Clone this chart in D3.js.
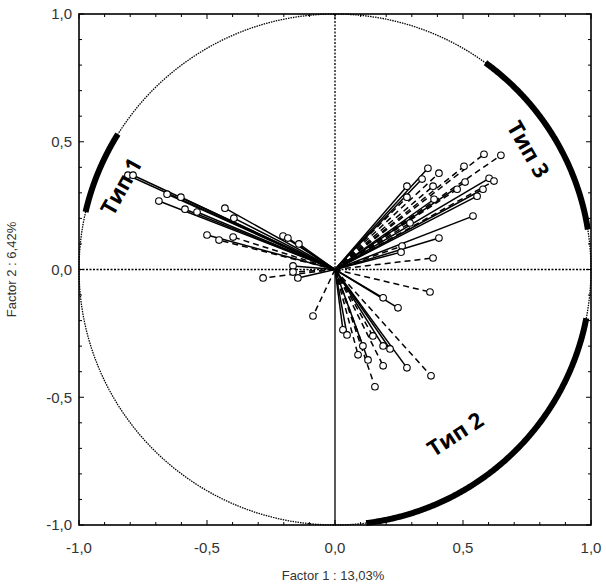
<!DOCTYPE html>
<html>
<head>
<meta charset="utf-8">
<script src="https://cdn.jsdelivr.net/npm/d3@7"></script>
<style>
  body { margin: 0; background: #fff; }
  text { font-family: "Liberation Sans", Arial, sans-serif; }
</style>
</head>
<body>
<svg id="chart" width="606" height="586"></svg>
<script>
// ---------------- data ----------------
// loadings: [factor1, factor2, dashed?]
const type1Vectors = [
  [-0.809, 0.369, 0], [-0.789, 0.369, 0], [-0.656, 0.295, 0], [-0.602, 0.283, 0],
  [-0.688, 0.268, 0], [-0.586, 0.236, 0], [-0.539, 0.225, 0], [-0.430, 0.240, 0],
  [-0.395, 0.201, 0], [-0.500, 0.135, 0], [-0.453, 0.115, 1], [-0.398, 0.127, 1],
  [-0.203, 0.131, 0], [-0.184, 0.123, 0], [-0.141, 0.100, 0], [-0.164, 0.014, 0],
  [-0.164, -0.010, 1], [-0.145, -0.033, 0], [-0.281, -0.033, 1], [-0.086, -0.182, 1]
];
const type3Vectors = [
  [0.582, 0.451, 1], [0.648, 0.447, 1], [0.504, 0.404, 1], [0.363, 0.396, 0],
  [0.406, 0.377, 1], [0.508, 0.342, 0], [0.602, 0.357, 0], [0.621, 0.346, 1],
  [0.340, 0.354, 0], [0.281, 0.326, 0], [0.383, 0.326, 1], [0.477, 0.314, 1],
  [0.578, 0.314, 0], [0.555, 0.287, 0], [0.281, 0.283, 1], [0.387, 0.275, 0],
  [0.539, 0.209, 0], [0.293, 0.182, 1], [0.406, 0.123, 0], [0.262, 0.092, 1],
  [0.258, 0.068, 0], [0.383, 0.045, 1]
];
const type2Vectors = [
  [0.371, -0.088, 1], [0.188, -0.111, 0], [0.246, -0.150, 0], [0.031, -0.236, 0],
  [0.047, -0.256, 0], [0.148, -0.260, 1], [0.188, -0.299, 0], [0.215, -0.311, 0],
  [0.109, -0.299, 1], [0.090, -0.334, 1], [0.129, -0.354, 0], [0.188, -0.377, 1],
  [0.281, -0.385, 0], [0.375, -0.416, 1], [0.156, -0.459, 1]
];

// thick arcs on the unit circle, angles in degrees
const groupArcs = [
  { name: "Тип 1", from: 148, to: 167 },
  { name: "Тип 3", from: 9, to: 54 },
  { name: "Тип 2", from: -83, to: -11 }
];
// label positions in data units + rotation
const groupLabels = [
  { name: "Тип 1", x: -0.835, y: 0.325, rot: -61 },
  { name: "Тип 3", x: 0.755, y: 0.47, rot: 60 },
  { name: "Тип 2", x: 0.47, y: -0.645, rot: -33 }
];

const tickValues = [-1, -0.5, 0, 0.5, 1];
const tickLabels = ["-1,0", "-0,5", "0,0", "0,5", "1,0"];
const minorTicks = d3.range(-10, 11).map(d => d / 10);
const xTitle = "Factor 1 : 13,03%";
const yTitle = "Factor 2 :  6,42%";

// ---------------- setup ----------------
const svg = d3.select("#chart");
const plotLeft = 79, plotRight = 591, plotTop = 14, plotBottom = 525;

const x = d3.scaleLinear().domain([-1, 1]).range([plotLeft, plotRight]);
const y = d3.scaleLinear().domain([-1, 1]).range([plotBottom, plotTop]);

const arcLine = d3.line().x(d => x(d[0])).y(d => y(d[1]));
function arcPoints(a0, a1) {
  return d3.range(0, 181).map(i => {
    const a = (a0 + (a1 - a0) * i / 180) * Math.PI / 180;
    return [Math.cos(a), Math.sin(a)];
  });
}

// unit circle (dotted)
svg.append("path")
  .attr("d", arcLine(arcPoints(0, 360)))
  .attr("fill", "none")
  .attr("stroke", "#000")
  .attr("stroke-width", 1.3)
  .attr("stroke-dasharray", "1.5,1");

// zero lines
svg.append("line")
  .attr("x1", x(-1)).attr("x2", x(1)).attr("y1", y(0)).attr("y2", y(0))
  .attr("stroke", "#000").attr("stroke-width", 1.3).attr("stroke-dasharray", "2,1.5");
svg.append("line")
  .attr("x1", x(0)).attr("x2", x(0)).attr("y1", y(1)).attr("y2", y(0))
  .attr("stroke", "#000").attr("stroke-width", 1.3).attr("stroke-dasharray", "2,1.5");
svg.append("line")
  .attr("x1", x(0)).attr("x2", x(0)).attr("y1", y(0)).attr("y2", y(-1))
  .attr("stroke", "#000").attr("stroke-width", 1.3);

// thick arcs
svg.append("g").selectAll("path")
  .data(groupArcs)
  .enter()
  .append("path")
  .attr("d", d => arcLine(arcPoints(d.from, d.to)))
  .attr("fill", "none")
  .attr("stroke", "#000")
  .attr("stroke-width", 6);

// vectors
const allVectors = type1Vectors.concat(type3Vectors, type2Vectors);
const vec = svg.append("g");
vec.selectAll("line")
  .data(allVectors)
  .enter()
  .append("line")
  .attr("x1", x(0)).attr("y1", y(0))
  .attr("x2", d => x(d[0])).attr("y2", d => y(d[1]))
  .attr("stroke", "#000")
  .attr("stroke-width", 1.5)
  .attr("stroke-dasharray", d => d[2] ? "6,4" : null);
vec.selectAll("circle")
  .data(allVectors)
  .enter()
  .append("circle")
  .attr("cx", d => x(d[0])).attr("cy", d => y(d[1]))
  .attr("r", 3.3)
  .attr("fill", "#fff")
  .attr("stroke", "#000")
  .attr("stroke-width", 1.1);

// group labels
svg.append("g").selectAll("text")
  .data(groupLabels)
  .enter()
  .append("text")
  .attr("transform", d => "translate(" + x(d.x) + "," + y(d.y) + ") rotate(" + d.rot + ")")
  .attr("text-anchor", "middle")
  .attr("dy", "0.35em")
  .style("font-family", "'Open Sans', 'Liberation Sans', sans-serif")
  .style("font-weight", 700)
  .style("font-size", "22px")
  .text(d => d.name);

// frame
svg.append("rect")
  .attr("x", plotLeft).attr("y", plotTop)
  .attr("width", plotRight - plotLeft).attr("height", plotBottom - plotTop)
  .attr("fill", "none").attr("stroke", "#000").attr("stroke-width", 1.6);

// ticks on all four sides, pointing inwards
const ticks = svg.append("g").attr("stroke", "#000").attr("stroke-width", 1);
minorTicks.forEach(v => {
  const major = Math.abs(v * 2 - Math.round(v * 2)) < 1e-9;
  const len = major ? 5 : 3;
  ticks.append("line").attr("x1", x(v)).attr("x2", x(v)).attr("y1", plotBottom).attr("y2", plotBottom - len);
  ticks.append("line").attr("x1", x(v)).attr("x2", x(v)).attr("y1", plotTop).attr("y2", plotTop + len);
  ticks.append("line").attr("y1", y(v)).attr("y2", y(v)).attr("x1", plotLeft).attr("x2", plotLeft + len);
  ticks.append("line").attr("y1", y(v)).attr("y2", y(v)).attr("x1", plotRight).attr("x2", plotRight - len);
});

// tick labels
svg.append("g").selectAll("text")
  .data(tickValues)
  .enter()
  .append("text")
  .attr("x", d => x(d))
  .attr("y", plotBottom + 28)
  .attr("text-anchor", "middle")
  .style("font-size", "15px")
  .attr("fill", "#333")
  .text((d, i) => tickLabels[i]);
svg.append("g").selectAll("text")
  .data(tickValues)
  .enter()
  .append("text")
  .attr("x", plotLeft - 7)
  .attr("y", d => y(d))
  .attr("dy", "0.35em")
  .attr("text-anchor", "end")
  .style("font-size", "15px")
  .attr("fill", "#333")
  .text((d, i) => tickLabels[i]);

// axis titles
svg.append("text")
  .attr("x", (plotLeft + plotRight) / 2 - 2)
  .attr("y", 580)
  .attr("text-anchor", "middle")
  .style("font-size", "13px")
  .attr("fill", "#333")
  .text(xTitle);
svg.append("text")
  .attr("transform", "translate(16," + (plotTop + plotBottom) / 2 + ") rotate(-90)")
  .attr("text-anchor", "middle")
  .style("font-size", "13px")
  .attr("fill", "#333")
  .text(yTitle);
</script>
</body>
</html>
